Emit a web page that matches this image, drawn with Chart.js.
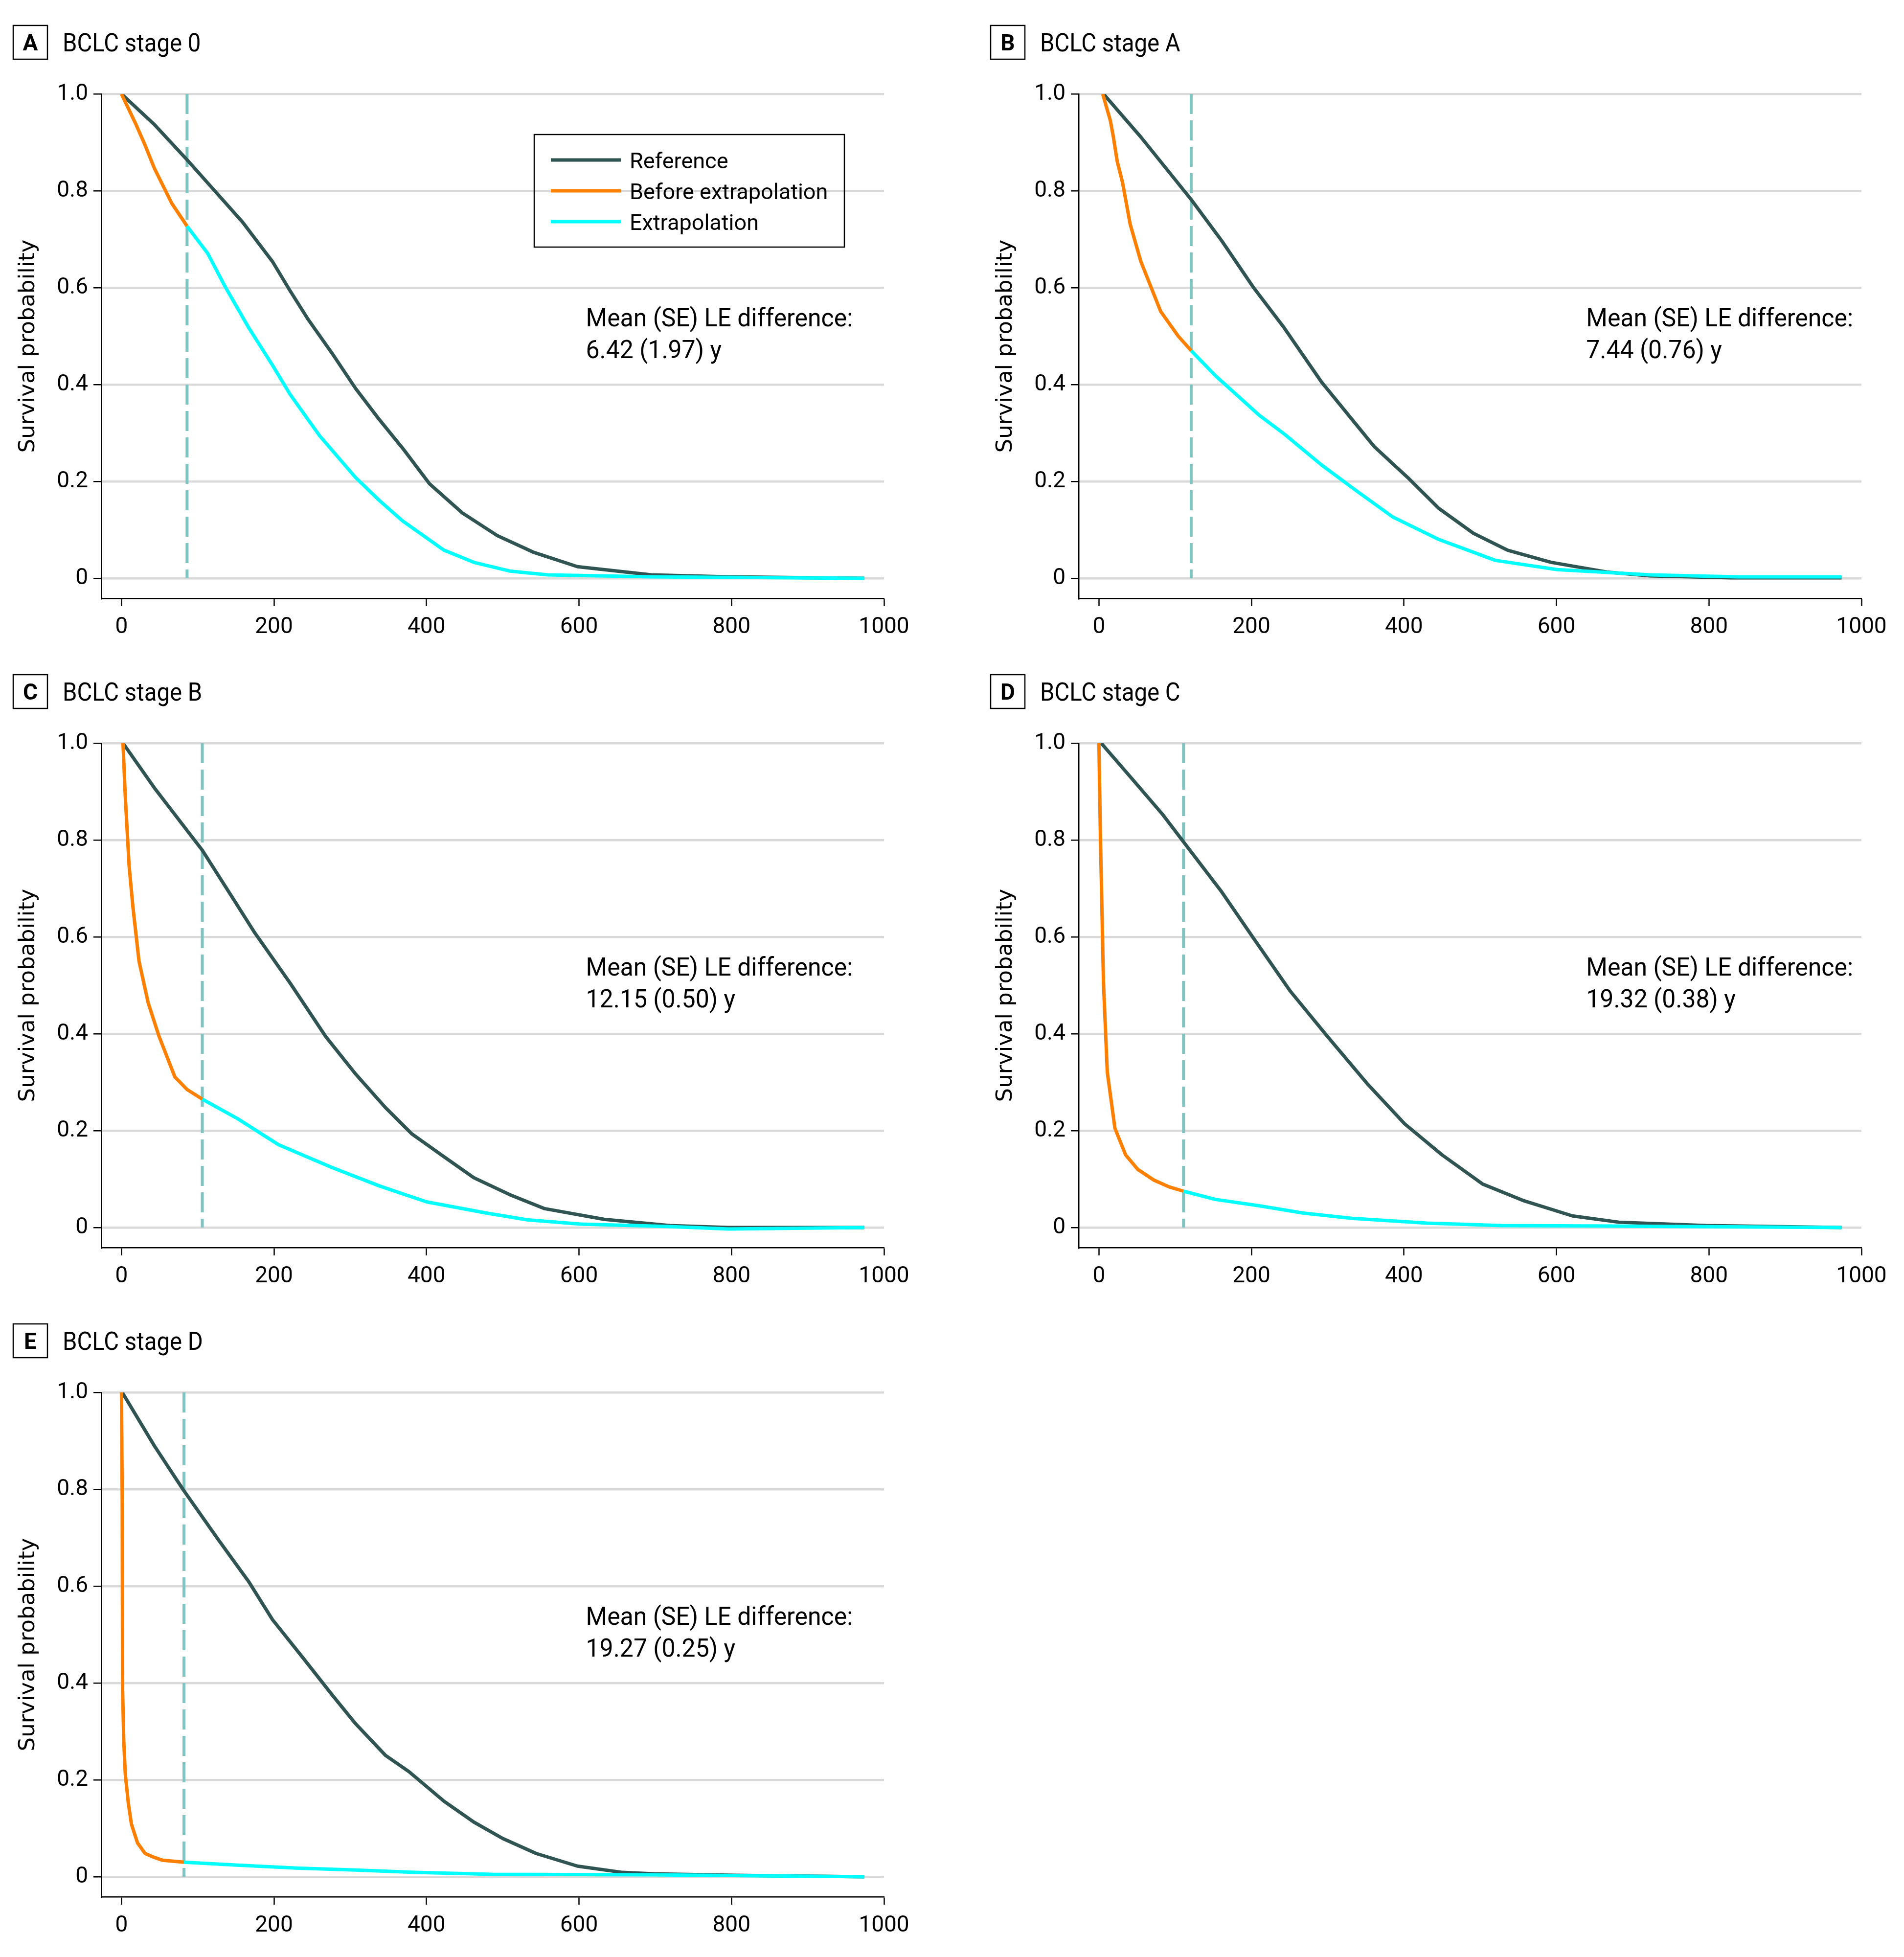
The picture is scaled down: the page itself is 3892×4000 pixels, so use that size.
<!DOCTYPE html>
<html>
<head>
<meta charset="utf-8">
<script src="https://cdn.jsdelivr.net/npm/chart.js@4.4.1/dist/chart.umd.min.js"></script>
<style>
  body { margin: 0; background: #fff; }
  #page { position: relative; width: 3892px; height: 4000px; background: #fff; }
  canvas { position: absolute; }
</style>
</head>
<body>
<div id="page"></div>
<script>
// panel text
const panelLetters = ['A', 'B', 'C', 'D', 'E'];
const panelTitles = ['BCLC stage 0', 'BCLC stage A', 'BCLC stage B', 'BCLC stage C', 'BCLC stage D'];
const leDiff = ['6.42 (1.97) y', '7.44 (0.76) y', '12.15 (0.50) y', '19.32 (0.38) y', '19.27 (0.25) y'];
const cutoffDays = [86, 121, 106, 111, 82];

const xTicks = [0, 200, 400, 600, 800, 1000];
const yTicks = [0, 0.2, 0.4, 0.6, 0.8, 1.0];

// curves, [x, survival]
const refA = [[0,1],[43,.937],[86,.864],[120,.804],[159,.735],[198,.654],[221,.594],[245,.534],[276,.465],[307,.392],[338,.328],[369,.268],[404,.195],[447,.135],[493,.088],[540,.054],[598,.024],[695,.007],[796,.003],[974,0]];
const beforeA = [[0,1],[19,.937],[31,.894],[43,.847],[66,.774],[86,.727]];
const extraA = [[86,.727],[113,.671],[136,.602],[167,.517],[198,.44],[221,.38],[260,.294],[307,.208],[338,.161],[369,.118],[423,.058],[462,.033],[509,.015],[559,.007],[695,.003],[974,0]];

const refB = [[6,1],[55,.911],[121,.782],[161,.697],[202,.602],[243,.517],[292,.405],[361,.272],[405,.208],[446,.144],[491,.093],[536,.058],[593,.033],[666,.013],[723,.005],[829,.001],[974,.001]];
const beforeB = [[5,1],[15,.945],[19,.911],[24,.861],[31,.817],[41,.731],[55,.654],[81,.551],[104,.5],[121,.47]];
const extraB = [[121,.47],[153,.418],[210,.337],[243,.298],[292,.234],[340,.178],[385,.127],[446,.08],[520,.037],[601,.018],[723,.007],[837,.003],[974,.003]];

const refC = [[2,1],[43,.908],[106,.779],[144,.685],[175,.608],[221,.505],[268,.394],[307,.317],[346,.248],[381,.193],[423,.146],[462,.103],[509,.068],[555,.039],[633,.017],[719,.004],[796,0],[974,0]];
const beforeC = [[2,1],[5,.89],[10,.747],[15,.662],[23,.55],[35,.464],[49,.396],[70,.311],[86,.285],[106,.265]];
const extraC = [[106,.265],[152,.225],[206,.171],[276,.124],[338,.086],[400,.053],[478,.03],[532,.016],[602,.007],[719,.002],[796,-.003],[974,0]];

const refD = [[3,1],[47,.92],[84,.852],[111,.796],[161,.693],[202,.599],[251,.488],[300,.394],[353,.295],[401,.214],[450,.15],[503,.09],[556,.056],[621,.024],[682,.011],[796,.004],[974,0]];
const beforeD = [[0,1],[2,.805],[6,.505],[11,.321],[21,.205],[35,.15],[51,.12],[72,.098],[92,.084],[111,.075]];
const extraD = [[111,.075],[153,.058],[210,.045],[267,.03],[332,.019],[430,.009],[528,.004],[674,.003],[974,0]];

const refE = [[1,1],[43,.89],[81,.799],[127,.696],[167,.609],[198,.531],[237,.454],[276,.376],[307,.316],[346,.251],[377,.217],[423,.156],[462,.113],[500,.079],[544,.048],[598,.022],[657,.009],[698,.006],[804,.003],[974,0]];
const beforeE = [[0,1],[1,.773],[1.5,.385],[3,.281],[5,.212],[9,.152],[13,.109],[21,.07],[31,.048],[43,.04],[54,.034],[82,.03]];
const extraE = [[82,.03],[152,.024],[229,.018],[307,.014],[385,.009],[486,.005],[695,.004],[974,0]];

const refSeries = [refA, refB, refC, refD, refE];
const beforeSeries = [beforeA, beforeB, beforeC, beforeD, beforeE];
const extraSeries = [extraA, extraB, extraC, extraD, extraE];

// styles / layout
const REF_COLOR = '#2f5452';
const BEFORE_COLOR = '#ff8000';
const EXTRA_COLOR = '#00ffff';
const CUT_COLOR = '#80c4c2';
const GRID_COLOR = '#d9d9d9';
const FONT = 'Roboto';

const PANEL_W = 1890, PANEL_H = 1327;
const COL_X = [0, 1998];
const annoX = [609, 639, 609, 639, 609];

const page = document.getElementById('page');

function pts(arr) {
    return arr.map(p => ({ x: p[0], y: p[1] }));
}

// text squeezed a little horizontally, the original face is narrower
function narrowText(ctx, text, x, y, sx) {
    ctx.save();
    ctx.translate(x, y);
    ctx.scale(sx, 1);
    ctx.fillText(text, 0, 0);
    ctx.restore();
}

// header box, annotation text and legend
const panelDecor = {
    id: 'panelDecor',
    afterDraw(chart, args, opts) {
        const ctx = chart.ctx;
        const xs = chart.scales.x, ys = chart.scales.y;
        ctx.save();
        ctx.fillStyle = '#000';
        ctx.strokeStyle = '#000';

        // letter box + title
        ctx.lineWidth = 2.5;
        ctx.strokeRect(27, 52, 70, 69);
        ctx.textAlign = 'center';
        ctx.textBaseline = 'alphabetic';
        ctx.font = 'bold 46px ' + FONT;
        ctx.fillText(opts.letter, 62, 103);
        ctx.textAlign = 'left';
        ctx.font = '52px ' + FONT;
        narrowText(ctx, opts.title, 128, 105, 0.91);

        // LE difference
        const ax = xs.getPixelForValue(opts.annoX);
        narrowText(ctx, 'Mean (SE) LE difference:', ax, ys.getPixelForValue(0.52), 0.96);
        narrowText(ctx, opts.diff, ax, ys.getPixelForValue(0.455), 0.96);

        if (opts.legend) {
            ctx.lineWidth = 2.5;
            ctx.strokeRect(1092, 275, 634, 230);
            const items = chart.data.datasets.filter(d => d.label !== 'cutoff');
            ctx.font = '45px ' + FONT;
            items.forEach((d, k) => {
                const y = 327 + k * 63;
                ctx.strokeStyle = d.borderColor;
                ctx.lineWidth = 7;
                ctx.beginPath();
                ctx.moveTo(1126, y);
                ctx.lineTo(1269, y);
                ctx.stroke();
                ctx.fillText(d.label, 1287, y + 17);
            });
        }
        ctx.restore();
    }
};

function makePanel(i) {
    const canvas = document.createElement('canvas');
    canvas.width = PANEL_W;
    canvas.height = PANEL_H;
    canvas.style.left = COL_X[i % 2] + 'px';
    canvas.style.top = Math.floor(i / 2) * PANEL_H + 'px';
    page.appendChild(canvas);

    const cut = cutoffDays[i];
    new Chart(canvas, {
        type: 'line',
        data: {
            datasets: [
                { label: 'cutoff', data: [{ x: cut, y: 1 }, { x: cut, y: 0 }], borderColor: CUT_COLOR, borderWidth: 6, borderDash: [41, 13], order: 4 },
                { label: 'Reference', data: pts(refSeries[i]), borderColor: REF_COLOR, order: 3 },
                { label: 'Before extrapolation', data: pts(beforeSeries[i]), borderColor: BEFORE_COLOR, order: 2 },
                { label: 'Extrapolation', data: pts(extraSeries[i]), borderColor: EXTRA_COLOR, order: 1 }
            ]
        },
        options: {
            responsive: false,
            animation: false,
            devicePixelRatio: 1,
            layout: { padding: { top: 192, right: PANEL_W - 1807, left: 0, bottom: 0 } },
            elements: {
                point: { radius: 0 },
                line: { borderWidth: 7, tension: 0, fill: false, borderJoinStyle: 'round' }
            },
            plugins: {
                legend: { display: false },
                tooltip: { enabled: false },
                panelDecor: { letter: panelLetters[i], title: panelTitles[i], diff: leDiff[i], annoX: annoX[i], legend: i === 0 }
            },
            scales: {
                x: {
                    type: 'linear',
                    min: -26.5,
                    max: 1000,
                    afterFit: s => { s.height = 104; },
                    afterBuildTicks: s => { s.ticks = xTicks.map(v => ({ value: v })); },
                    grid: { drawOnChartArea: false, tickLength: 16, tickWidth: 2.5, tickColor: '#000' },
                    border: { color: '#000', width: 2.5 },
                    ticks: { font: { family: FONT, size: 46 }, color: '#000', padding: 16, maxRotation: 0, autoSkip: false, callback: v => String(v) }
                },
                y: {
                    min: -0.0414,
                    max: 1,
                    afterFit: s => { s.width = 207; },
                    afterBuildTicks: s => { s.ticks = yTicks.map(v => ({ value: v })); },
                    grid: { color: GRID_COLOR, lineWidth: 4.5, tickLength: 16, tickWidth: 2.5, tickColor: '#000' },
                    border: { color: '#000', width: 2.5 },
                    ticks: { font: { family: FONT, size: 46 }, color: '#000', padding: 11, autoSkip: false, callback: v => v === 0 ? '0' : v.toFixed(1) },
                    title: { display: true, text: 'Survival probability', color: '#000', font: { family: 'DejaVu Sans', size: 45 }, padding: { top: 31, bottom: 0 } }
                }
            }
        },
        plugins: [panelDecor]
    });
}

for (let i = 0; i < 5; i++) {
    makePanel(i);
}
</script>
</body>
</html>
